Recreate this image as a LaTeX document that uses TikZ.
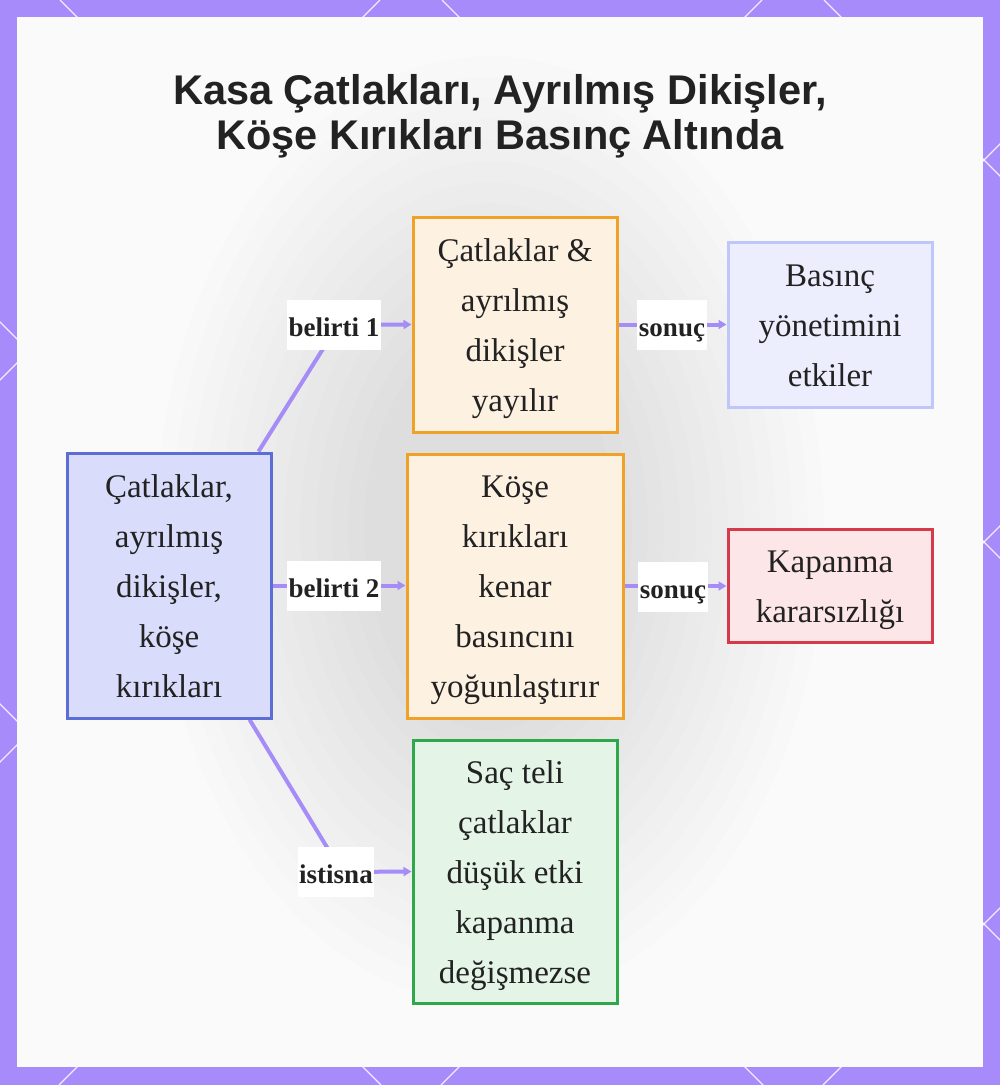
\documentclass[tikz,border=0pt]{standalone}
\usepackage{fontspec}
\setmainfont{Liberation Serif}
\newfontfamily\titlefont{Liberation Sans}
\usetikzlibrary{arrows.meta}
\definecolor{framec}{RGB}{167,139,250}
\definecolor{conncol}{RGB}{165,140,246}
\definecolor{panelbg}{RGB}{250,250,250}
\definecolor{textc}{RGB}{34,34,34}
\definecolor{blueF}{RGB}{217,221,251}
\definecolor{blueD}{RGB}{92,110,214}
\definecolor{orF}{RGB}{253,241,226}
\definecolor{orD}{RGB}{240,162,40}
\definecolor{grF}{RGB}{228,244,230}
\definecolor{grD}{RGB}{46,168,74}
\definecolor{lvF}{RGB}{236,238,253}
\definecolor{lvD}{RGB}{190,198,250}
\definecolor{rdF}{RGB}{253,230,232}
\definecolor{rdD}{RGB}{214,58,74}
\newcommand{\mystrut}{\rule[-8pt]{0pt}{39pt}}
\pgfdeclarelayer{bgzero}
\pgfdeclarelayer{edges}
\pgfsetlayers{bgzero,edges,main}
\tikzset{
  box/.style={draw, line width=3pt, inner sep=0pt, align=center, text=textc,
    font=\fontsize{33}{50}\selectfont},
  lbl/.style={fill=white, inner xsep=1.5pt, inner ysep=0pt, minimum height=50pt,
    text height=26pt, text depth=4pt,
    text=textc, font=\bfseries\fontsize{27}{30}\selectfont},
  conn/.style={draw=conncol, line width=4pt, line join=round},
  arr/.style={-{Triangle[length=8pt,width=9pt]}},
  latt/.style={draw=white, line width=1.3pt, opacity=0.85},
  ttl/.style={anchor=base, text=textc, font=\titlefont\bfseries\fontsize{41.5}{45}\selectfont}
}
\begin{document}
\begin{tikzpicture}[x=1pt,y=-1pt]
\useasboundingbox (0,0) rectangle (1000,1085);
\begin{pgfonlayer}{bgzero}
  \fill[framec] (0,0) rectangle (1000,1085);
  \begin{scope}
    \clip (0,0) rectangle (1000,1085);
    \foreach \c in {-2,380,762,1144,1526,1908} \draw[latt] (\c,0) -- (\c-1085,1085);
    \foreach \c in {-704,-322,60,442,824} \draw[latt] (\c,0) -- (\c+1085,1085);
  \end{scope}
  \fill[panelbg] (17,17) rectangle (983,1067);
  \foreach \i in {1,...,14}
    \fill[black, opacity=0.0075] (490,530) ellipse [x radius={110+16*\i}, y radius={180+21*\i}];
\end{pgfonlayer}

\node[ttl] (t1) at (500,104) {Kasa Çatlakları, Ayrılmış Dikişler,};
\node[ttl] (t2) at (500,149) {Köşe Kırıkları Basınç Altında};

\node[box, fill=blueF, draw=blueD, minimum width=204pt, minimum height=265pt] (L) at (169,585.5)
  {\mystrut Çatlaklar,\\ayrılmış\\dikişler,\\köşe\\kırıkları\mystrut};
\node[box, fill=orF, draw=orD, minimum width=204pt, minimum height=215pt] (T) at (515,324.5)
  {\mystrut Çatlaklar \&\\ayrılmış\\dikişler\\yayılır\mystrut};
\node[box, fill=orF, draw=orD, minimum width=216pt, minimum height=264pt] (M) at (515,586)
  {\mystrut Köşe\\kırıkları\\kenar\\basıncını\\yoğunlaştırır\mystrut};
\node[box, fill=grF, draw=grD, minimum width=204pt, minimum height=263pt] (B) at (515,871.5)
  {\mystrut Saç teli\\çatlaklar\\düşük etki\\kapanma\\değişmezse\mystrut};
\node[box, fill=lvF, draw=lvD, minimum width=204pt, minimum height=165pt] (RT) at (830,324.5)
  {\mystrut Basınç\\yönetimini\\etkiler\mystrut};
\node[box, fill=rdF, draw=rdD, minimum width=204pt, minimum height=113pt] (RM) at (830,585.5)
  {\mystrut Kapanma\\kararsızlığı\mystrut};

\coordinate (k1) at (338,325);
\coordinate (k3) at (342,872);

\begin{pgfonlayer}{edges}
  \draw[conn,arr] ([xshift=-14pt]L.north east) -- (k1) -- (T.west);
  \draw[conn,arr] (L.east) -- (L.east -| M.west);
  \draw[conn,arr] ([xshift=-23pt]L.south east) -- (k3) -- (B.west);
  \draw[conn,arr] (T.east) -- (T.east -| RT.west);
  \draw[conn,arr] (M.east) -- (M.east -| RM.west);
\end{pgfonlayer}

\node[lbl] (l1) at (334,325) {belirti 1};
\node[lbl] (l2) at (334,586) {belirti 2};
\node[lbl] (l3) at (336,872) {istisna};
\node[lbl] (l4) at (672,325) {sonuç};
\node[lbl] (l5) at (673,587) {sonuç};
\end{tikzpicture}
\end{document}
